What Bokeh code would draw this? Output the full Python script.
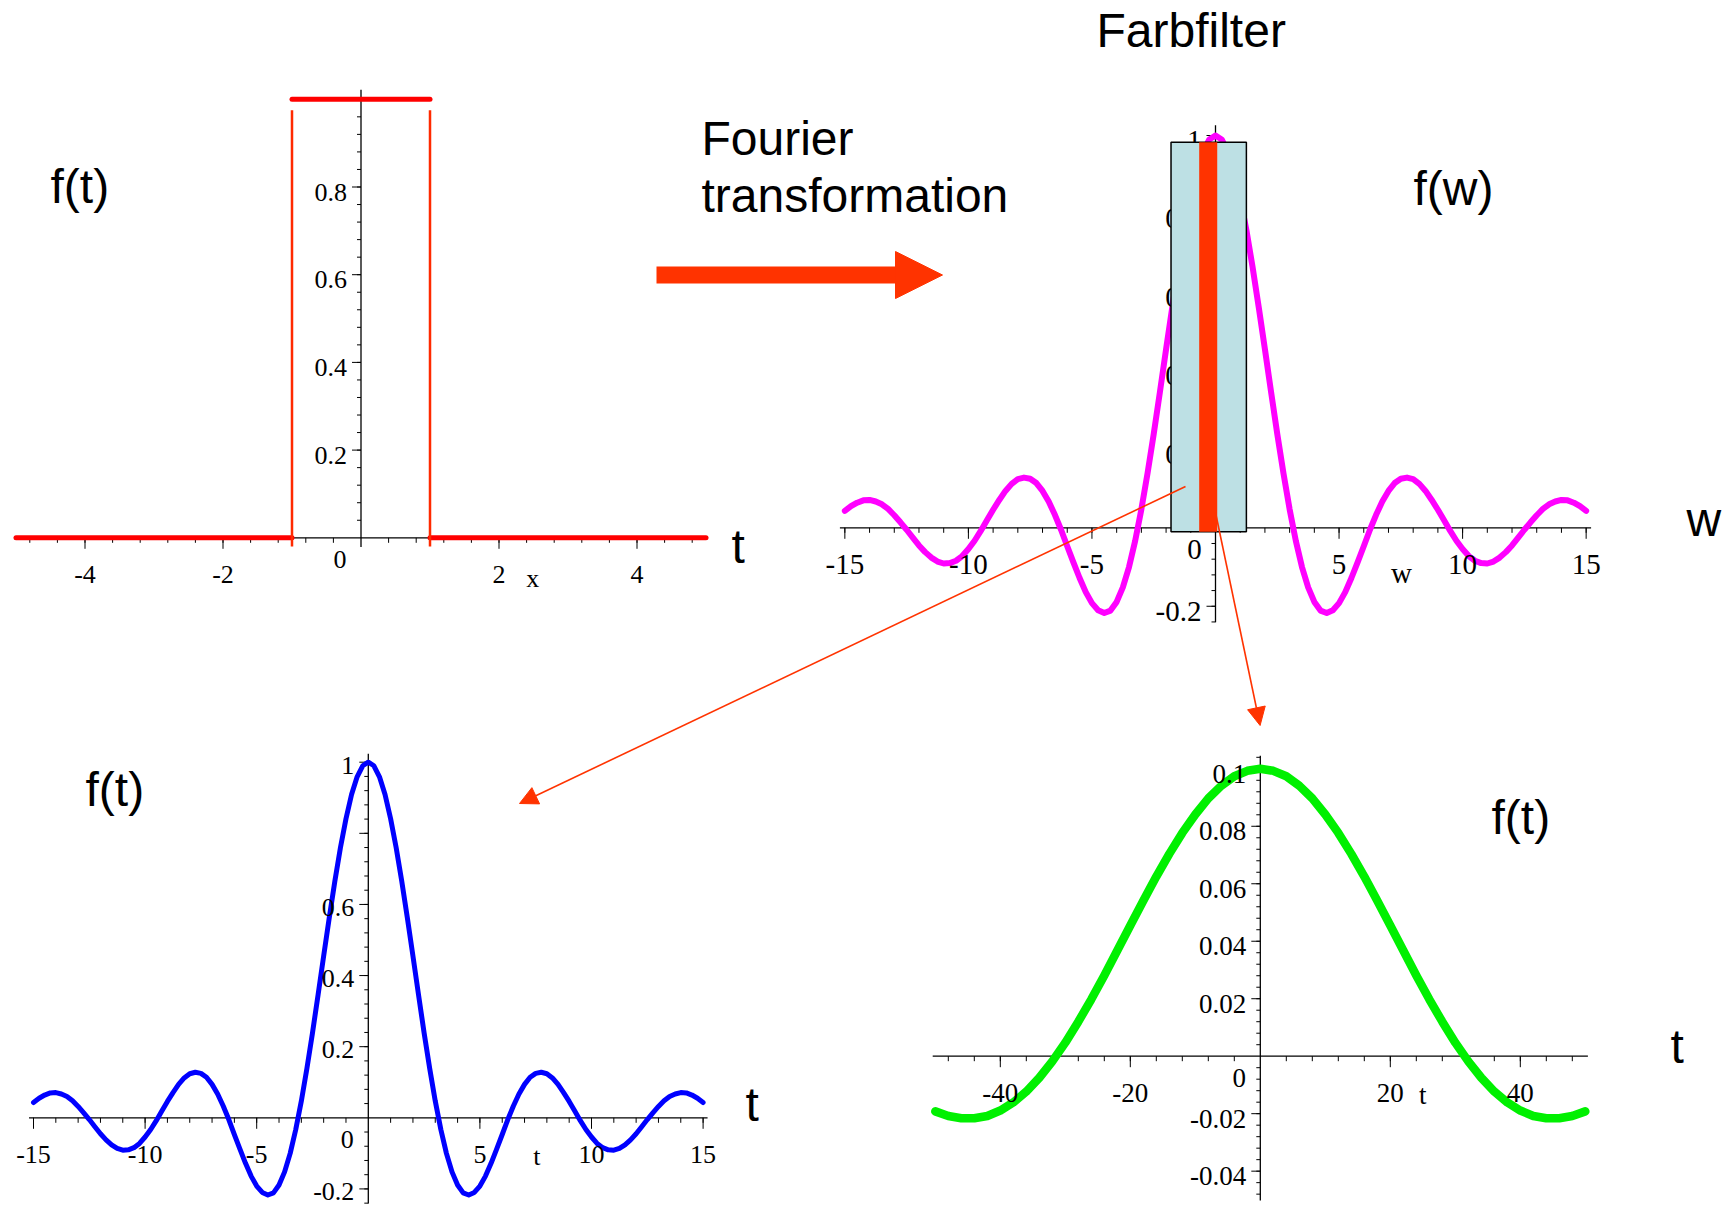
import numpy as np
from bokeh.plotting import figure
from bokeh.models import Range1d, Arrow, NormalHead
from bokeh.core.properties import value
from bokeh.embed import file_html
from bokeh.resources import INLINE

# ---------------- data ----------------
# top left: rectangular pulse f(t)
pulse_t = [[-5, -1], [-1, 1], [1, 5]]
pulse_f = [[0, 0], [1, 1], [0, 0]]
pulse_jumps = [-1, 1]

# top right: spectrum f(w), read every 0.25 on w from -15 to 15
spec_w = [k * 0.25 for k in range(-60, 61)]
spec_f = [0.043, 0.055, 0.064, 0.070, 0.071, 0.067, 0.060, 0.048, 0.032, 0.014,
          -0.005, -0.025, -0.045, -0.062, -0.076, -0.086, -0.091, -0.090, -0.084, -0.072,
          -0.054, -0.033, -0.008, 0.019, 0.046, 0.071, 0.094, 0.112, 0.124, 0.128,
          0.125, 0.114, 0.094, 0.067, 0.033, -0.005, -0.047, -0.088, -0.128, -0.164,
          -0.192, -0.210, -0.217, -0.211, -0.189, -0.152, -0.100, -0.033, 0.047, 0.139,
          0.239, 0.346, 0.455, 0.562, 0.665, 0.759, 0.841, 0.909, 0.959, 0.990,
          1.000,
          0.990, 0.959, 0.909, 0.841, 0.759, 0.665, 0.562, 0.455, 0.346, 0.239,
          0.139, 0.047, -0.033, -0.100, -0.152, -0.189, -0.211, -0.217, -0.210, -0.192,
          -0.164, -0.128, -0.088, -0.047, -0.005, 0.033, 0.067, 0.094, 0.114, 0.125,
          0.128, 0.124, 0.112, 0.094, 0.071, 0.046, 0.019, -0.008, -0.033, -0.054,
          -0.072, -0.084, -0.090, -0.091, -0.086, -0.076, -0.062, -0.045, -0.025, -0.005,
          0.014, 0.032, 0.048, 0.060, 0.067, 0.071, 0.070, 0.064, 0.055, 0.043]

# colour filter band on the spectrum (w range, height) and the passed strip
filter_band = (-1.8, 1.25, -0.01, 0.983)
pass_band = (-0.66, 0.07, -0.01, 0.983)

# bottom left: signal from the whole band (reads the same as the spectrum curve)
wide_t = list(spec_w)
wide_f = list(spec_f)

# bottom right: signal from the narrow strip
narrow_t = [-50, -48, -46, -44, -42, -40, -38, -36, -34, -32, -30, -28, -26, -24, -22, -20,
            -18, -16, -14, -12, -10, -8, -6, -4, -2, 0, 2, 4, 6, 8, 10, 12, 14, 16, 18, 20,
            22, 24, 26, 28, 30, 32, 34, 36, 38, 40, 42, 44, 46, 48, 50]
narrow_f = [-0.0192, -0.0208, -0.0216, -0.0216, -0.0208, -0.0189, -0.0161, -0.0123, -0.0075,
            -0.0018, 0.0047, 0.0120, 0.0198, 0.0281, 0.0368, 0.0455, 0.0541, 0.0625, 0.0704,
            0.0777, 0.0841, 0.0897, 0.0941, 0.0974, 0.0993, 0.1000, 0.0993, 0.0974, 0.0941,
            0.0897, 0.0841, 0.0777, 0.0704, 0.0625, 0.0541, 0.0455, 0.0368, 0.0281, 0.0198,
            0.0120, 0.0047, -0.0018, -0.0075, -0.0123, -0.0161, -0.0189, -0.0208, -0.0216,
            -0.0216, -0.0208, -0.0192]

# tick labels
tl_xticks, tl_xlabels = [-4, -2, 2, 4], ["-4", "-2", "2", "4"]
tl_yticks, tl_ylabels = [0.2, 0.4, 0.6, 0.8], ["0.2", "0.4", "0.6", "0.8"]
tl_ymajor = [0.2, 0.4, 0.6, 0.8, 1.0]

tr_xticks, tr_xlabels = [-15, -10, -5, 5, 10, 15], ["-15", "-10", "-5", "5", "10", "15"]
tr_yticks, tr_ylabels = [-0.2, 0.2, 0.4, 0.6, 0.8, 1.0], ["-0.2", "0.2", "0.4", "0.6", "0.8", "1"]

bl_xticks, bl_xlabels = [-15, -10, -5, 5, 10, 15], ["-15", "-10", "-5", "5", "10", "15"]
bl_yticks, bl_ylabels = [-0.2, 0.2, 0.4, 0.6, 1.0], ["-0.2", "0.2", "0.4", "0.6", "1"]
bl_ymajor = [-0.2, 0.2, 0.4, 0.6, 0.8, 1.0]

br_xticks, br_xlabels = [-40, -20, 20, 40], ["-40", "-20", "20", "40"]
br_yticks = [-0.04, -0.02, 0.02, 0.04, 0.06, 0.08, 0.1]
br_ylabels = ["-0.04", "-0.02", "0.02", "0.04", "0.06", "0.08", "0.1"]

# ---------------- page ----------------
W, H = 1731, 1206
p = figure(width=W, height=H, x_range=Range1d(0, W), y_range=Range1d(H, 0),
           x_axis_type=None, y_axis_type=None, toolbar_location=None,
           output_backend="svg", min_border=0, outline_line_color=None,
           background_fill_color="white", border_fill_color="white")

SERIF = value("Liberation Serif")
SANS = value("Liberation Sans")


def panel(xs, ys, xt, yt):
    return p.subplot(x_source=Range1d(*xs), y_source=Range1d(*ys),
                     x_target=Range1d(*xt), y_target=Range1d(*yt))


def axes(sub, xlim, ylim, xmajor, xminor_step, ymajor, yminor_step):
    sub.line(x=[xlim[0], xlim[1]], y=[0, 0], line_color="black", line_width=1.3)
    sub.line(x=[0, 0], y=[ylim[0], ylim[1]], line_color="black", line_width=1.3)
    xmin = np.arange(np.ceil(xlim[0] / xminor_step), np.floor(xlim[1] / xminor_step) + 1) * xminor_step
    xmin = [v for v in xmin if abs(v) > 1e-9]
    ymin = np.arange(np.ceil(ylim[0] / yminor_step), np.floor(ylim[1] / yminor_step) + 1) * yminor_step
    ymin = [v for v in ymin if abs(v) > 1e-9]
    sub.ray(x=xmin, y=0, length=5, length_units="screen", angle=-np.pi / 2,
            line_color="black", line_width=1)
    sub.ray(x=xmajor, y=0, length=11, length_units="screen", angle=-np.pi / 2,
            line_color="black", line_width=1)
    sub.ray(x=0, y=ymin, length=4, length_units="screen", angle=np.pi,
            line_color="black", line_width=1)
    sub.ray(x=0, y=ymajor, length=9, length_units="screen", angle=np.pi,
            line_color="black", line_width=1)


def labels(sub, xt, xl, yt, yl, size, name, name_x, name_off, ylab_off=5):
    fs = f"{size}px"
    sub.text(x=xt, y=0, text=xl, text_font=SERIF, text_font_size=fs, text_color="black",
             text_align="center", text_baseline="middle", y_offset=37)
    sub.text(x=0, y=yt, text=yl, text_font=SERIF, text_font_size=fs, text_color="black",
             text_align="right", text_baseline="middle", x_offset=-14, y_offset=ylab_off)
    sub.text(x=[0], y=[0], text=["0"], text_font=SERIF, text_font_size=fs, text_color="black",
             text_align="center", text_baseline="middle", x_offset=-21, y_offset=22)
    sub.text(x=[name_x], y=[0], text=[name], text_font=SERIF, text_font_size=fs,
             text_color="black", text_align="center", text_baseline="middle", y_offset=name_off)


# ---- top left: pulse ----
tl = panel((-5, 5), (0, 1), (15.5, 705.5), (537.3, 98.8))
axes(tl, (-5.03, 5.03), (-0.021, 1.022), tl_xticks, 0.4, tl_ymajor, 0.04)
tl.multi_line(xs=pulse_t, ys=pulse_f, line_color="#ff0000", line_width=5, line_cap="round")
tl.segment(x0=pulse_jumps, y0=-0.02, x1=pulse_jumps, y1=0.975, line_color="#ff2a00", line_width=2.5)
labels(tl, tl_xticks, tl_xlabels, tl_yticks, tl_ylabels, 26, "x", 2.49, 41)

# ---- top right: spectrum ----
tr = panel((-15, 15), (0, 1), (844.35, 1585.65), (527.3, 135.0))
axes(tr, (-15.2, 15.2), (-0.241, 1.026), tr_xticks, 1, tr_yticks, 0.04)
tr.line(x=spec_w, y=spec_f, line_color="#ff00ff", line_width=6, line_cap="round", line_join="round")
labels(tr, tr_xticks, tr_xlabels, tr_yticks, tr_ylabels, 29, "w", 7.53, 45)
tr.quad(left=filter_band[0], right=filter_band[1], bottom=filter_band[2], top=filter_band[3],
        fill_color="#bde0e4", line_color="black", line_width=1.5)
tr.quad(left=pass_band[0], right=pass_band[1], bottom=pass_band[2], top=pass_band[3],
        fill_color="#ff3300", line_color=None)

# ---- bottom left ----
bl = panel((-15, 15), (0, 1), (33.0, 702.6), (1117.3, 761.7))
axes(bl, (-15.2, 15.2), (-0.241, 1.024), bl_xticks, 1, bl_ymajor, 0.04)
bl.line(x=wide_t, y=wide_f, line_color="#0000ff", line_width=5, line_cap="round", line_join="round")
labels(bl, bl_xticks, bl_xlabels, bl_yticks, bl_ylabels, 26, "t", 7.55, 39, ylab_off=3)

# ---- bottom right ----
br = panel((-50, 50), (0, 0.1), (934.8, 1584.8), (1055.7, 768.3))
axes(br, (-50.4, 50.4), (-0.0502, 0.1045), br_xticks, 4, br_yticks, 0.004)
br.line(x=narrow_t, y=narrow_f, line_color="#00f000", line_width=8.5, line_cap="round", line_join="round")
labels(br, br_xticks, br_xlabels, br_yticks, br_ylabels, 27, "t", 25.0, 39)

# ---- page texts ----
big_text = ["f(t)", "t", "Fourier", "transformation", "Farbfilter", "f(w)", "w",
            "f(t)", "t", "f(t)", "t"]
big_x = [50, 731, 701, 701, 1096, 1413, 1686, 85, 745, 1491, 1670]
big_y = [186, 546, 138, 195, 30, 188, 519, 789, 1104, 817, 1046]
p.text(x=big_x, y=big_y, text=big_text, text_font=SANS, text_font_size="48px",
       text_color="black", text_align="left", text_baseline="middle")

# ---- arrows ----
p.add_layout(Arrow(end=NormalHead(size=47, fill_color="#ff3300", line_color="#ff3300", line_width=1),
                   x_start=656, y_start=274.5, x_end=942, y_end=274.5,
                   line_color="#ff3300", line_width=17))
p.add_layout(Arrow(end=NormalHead(size=18, fill_color="#ff3300", line_color="#ff3300", line_width=1),
                   x_start=1185, y_start=486, x_end=519, y_end=803,
                   line_color="#ff3300", line_width=1.6))
p.add_layout(Arrow(end=NormalHead(size=18, fill_color="#ff3300", line_color="#ff3300", line_width=1),
                   x_start=1215, y_start=512, x_end=1259.6, y_end=725,
                   line_color="#ff3300", line_width=1.6))

open("out.html", "w").write(file_html(p, INLINE))
